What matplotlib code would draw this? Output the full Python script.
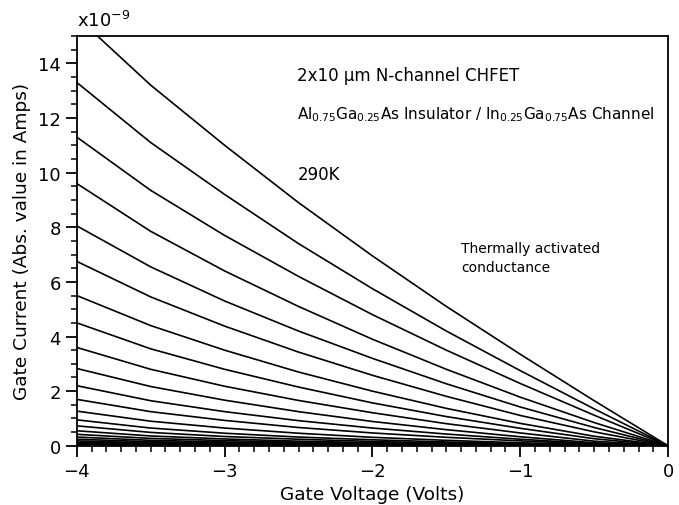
import matplotlib
matplotlib.use('Agg')
import matplotlib.pyplot as plt
from matplotlib.ticker import MultipleLocator
import numpy as np

plt.rcParams['font.family'] = ['DejaVu Sans']
plt.rcParams['mathtext.default'] = 'regular'

# gate voltage sample points (Volts)
gate_voltage = [-4.0, -3.5, -3.0, -2.5, -2.0, -1.5, -1.0, -0.5, 0.0]

# gate current, abs value, in units of 1e-9 A, one row per curve
gate_current = [
    [15.7, 13.2, 11.0, 8.9, 6.95, 5.1, 3.35, 1.65, 0],
    [13.3, 11.1, 9.2, 7.4, 5.75, 4.2, 2.75, 1.35, 0],
    [11.3, 9.35, 7.7, 6.2, 4.8, 3.5, 2.28, 1.12, 0],
    [9.6, 7.85, 6.4, 5.1, 3.9, 2.8, 1.78, 0.85, 0],
    [8.05, 6.55, 5.3, 4.2, 3.2, 2.27, 1.42, 0.67, 0],
    [6.75, 5.45, 4.38, 3.43, 2.58, 1.81, 1.11, 0.51, 0],
    [5.5, 4.4, 3.5, 2.7, 2.0, 1.37, 0.82, 0.35, 0],
    [4.5, 3.55, 2.8, 2.15, 1.57, 1.07, 0.64, 0.26, 0],
    [3.6, 2.8, 2.18, 1.66, 1.21, 0.81, 0.47, 0.17, 0],
    [2.83, 2.17, 1.67, 1.25, 0.89, 0.59, 0.33, 0.11, 0],
    [2.2, 1.65, 1.25, 0.92, 0.65, 0.43, 0.24, 0.08, 0],
    [1.7, 1.25, 0.93, 0.67, 0.47, 0.31, 0.18, 0.06, 0],
    [1.27, 0.9, 0.65, 0.46, 0.31, 0.2, 0.11, 0.04, 0],
    [0.95, 0.65, 0.46, 0.32, 0.22, 0.14, 0.08, 0.03, 0],
    [0.73, 0.49, 0.34, 0.24, 0.16, 0.1, 0.055, 0.02, 0],
    [0.55, 0.36, 0.25, 0.17, 0.115, 0.07, 0.035, 0.01, 0],
    [0.42, 0.27, 0.19, 0.13, 0.085, 0.05, 0.025, 0.01, 0],
    [0.32, 0.2, 0.14, 0.095, 0.06, 0.035, 0.018, 0.006, 0],
    [0.24, 0.15, 0.1, 0.068, 0.043, 0.025, 0.012, 0.004, 0],
    [0.18, 0.11, 0.075, 0.05, 0.031, 0.018, 0.009, 0.003, 0],
    [0.13, 0.08, 0.053, 0.035, 0.022, 0.012, 0.006, 0.002, 0],
    [0.09, 0.055, 0.036, 0.024, 0.015, 0.008, 0.004, 0, 0],
    [0.06, 0.036, 0.024, 0.016, 0.01, 0.005, 0.002, 0, 0],
    [0.03, 0.018, 0.012, 0.008, 0.005, 0.002, 0, 0, 0],
]

fig = plt.figure(figsize=(6.79, 5.06), dpi=100)
ax = fig.add_axes([0.113, 0.117, 0.871, 0.81])

for row in gate_current:
    ax.plot(gate_voltage, row, color='black', lw=1.2, solid_joinstyle='round')

ax.set_xlim(-4, 0)
ax.set_ylim(0, 15)

ax.xaxis.set_major_locator(MultipleLocator(1))
ax.xaxis.set_minor_locator(MultipleLocator(0.1))
ax.yaxis.set_major_locator(MultipleLocator(2))
ax.yaxis.set_minor_locator(MultipleLocator(0.5))
ax.xaxis.set_major_formatter(
    plt.FuncFormatter(lambda v, p: '\u2212%d' % abs(v) if v < 0 else '0'))
ax.tick_params(which='major', direction='out', length=8, width=1.3, labelsize=13)
ax.tick_params(which='minor', direction='out', length=4, width=1.1)
ax.tick_params(top=False, right=False)
for s in ax.spines.values():
    s.set_linewidth(1.3)

ax.set_xlabel('Gate Voltage (Volts)', fontsize=13.3, labelpad=4)
ax.set_ylabel('Gate Current (Abs. value in Amps)', fontsize=13.3, labelpad=5)

ax.text(0.0, 1.015, r'x10$^{-9}$', transform=ax.transAxes, fontsize=13,
        ha='left', va='bottom')

ax.text(0.373, 0.905, '2x10 μm N-channel CHFET', transform=ax.transAxes,
        fontsize=12, va='center')
ax.text(0.373, 0.81,
        r'Al$_{0.75}$Ga$_{0.25}$As Insulator / In$_{0.25}$Ga$_{0.75}$As Channel',
        transform=ax.transAxes, fontsize=11, va='center')
ax.text(0.373, 0.662, '290K', transform=ax.transAxes, fontsize=12, va='center')
ax.text(0.65, 0.459, 'Thermally activated\nconductance', transform=ax.transAxes,
        fontsize=10, va='center', linespacing=1.5)

fig.savefig('out.png', dpi=100)
